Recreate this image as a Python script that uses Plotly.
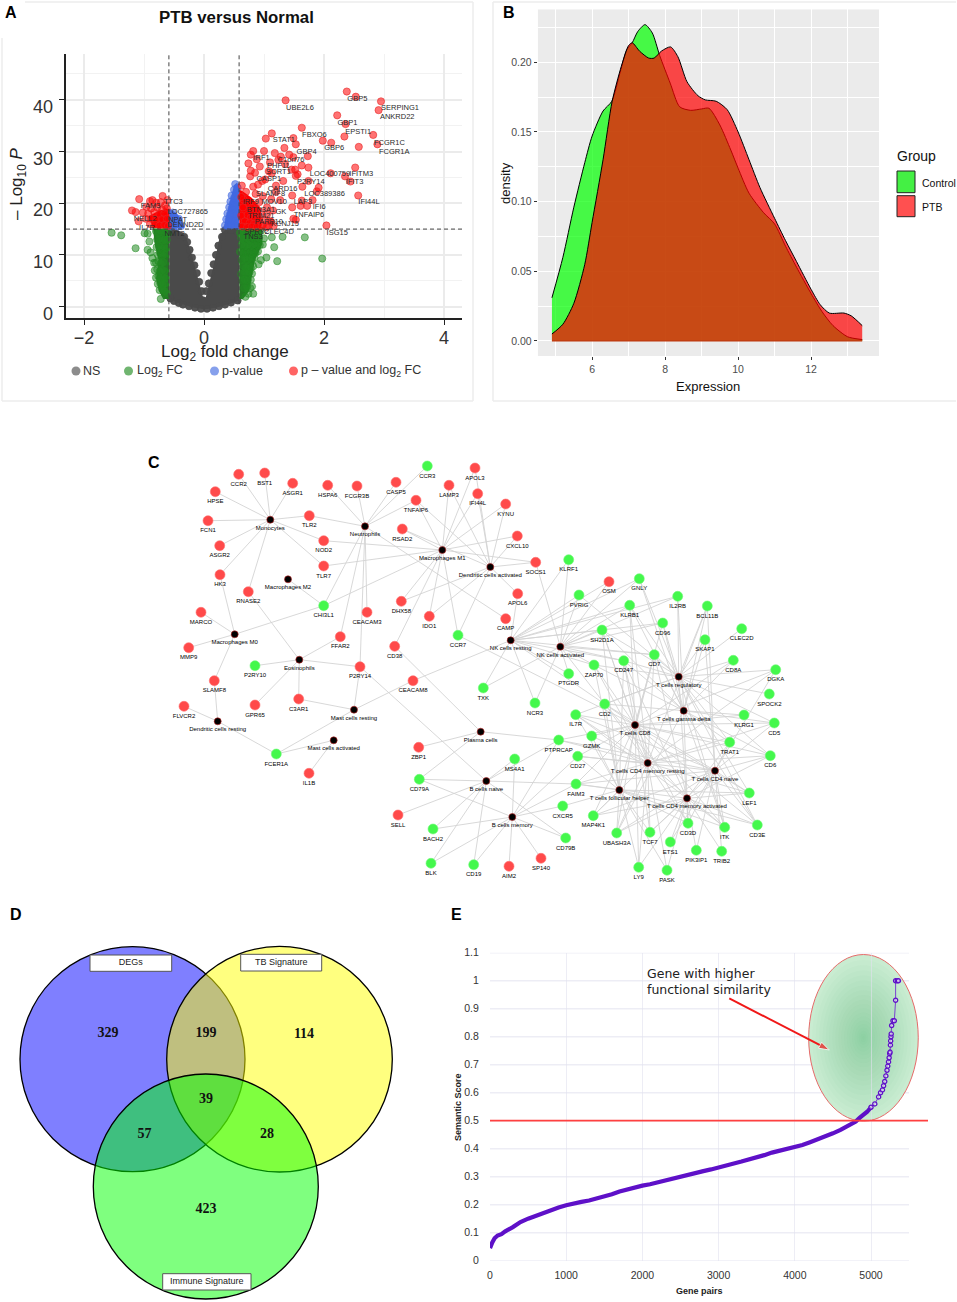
import plotly.graph_objects as go

W, H = 957, 1302
SANS = "Liberation Sans"

# ---------- Panel A: volcano ----------
ns_outline_x = [-0.58,-0.45,-0.3,-0.2,-0.1,-0.02,0.03,0.1,0.2,0.27,0.4,0.59,0.59,0.45,0.3,0.1,0,-0.2,-0.4,-0.58]
ns_outline_y = [15,14.8,13.5,10,5.5,2,1.8,5,10,14,15.2,15.2,1.2,0.6,0.1,-0.4,-0.5,-0.1,0.6,1.4]
ns_edge_x = [-0.55,-0.47,-0.4,-0.33,-0.28,-0.24,-0.2,-0.16,-0.12,-0.08,-0.04,0.04,0.08,0.12,0.16,0.2,0.24,0.3,0.35,0.45,0.55,-0.56,-0.5,-0.42,-0.35,-0.25,-0.15,-0.05,0.05,0.15,0.25,0.35,0.45,0.56]
ns_edge_y = [14.6,14.2,13.8,13.5,12.5,11,9.5,8,6.5,4.8,3,3,4.5,6.5,8.2,10,11.8,13.5,14.8,14.8,14.6,1.6,1.1,0.7,0.4,0.1,-0.2,-0.4,-0.4,-0.2,0.1,0.4,0.8,1.2]

fc_left_outline_x = [-0.58,-0.85,-0.82,-0.76,-0.8,-0.75,-0.68,-0.58]
fc_left_outline_y = [15,15,12,9,5.5,3,1.5,1.5]
fc_right_outline_x = [0.59,0.97,0.97,0.85,0.8,0.75,0.65,0.59]
fc_right_outline_y = [15,15,12,9,6,3,1.5,1.5]
fc_x = [-1.54,-1.38,-0.99,-0.94,-0.91,-1.14,-0.94,-0.89,-0.86,-0.83,1.68,1.31,1.13,1.17,1.97,1.22,1.04,0.95,0.91,0.82,0.74,0.69,-0.72,
        -0.8,-0.76,-0.72,-0.68,-0.64,-0.6,-0.78,-0.74,-0.7,-0.66,-0.62,-0.79,-0.75,-0.71,-0.67,-0.63,-0.77,-0.73,-0.69,-0.65,-0.8,-0.76,-0.72,-0.68,-0.82,-0.78,-0.74,-0.7,-0.66,-0.8,-0.76,-0.72,-0.68,-0.64,-0.77,-0.73,-0.69,-0.65,-0.74,-0.7,-0.66,-0.62,
        0.95,0.9,0.85,0.8,0.75,0.7,0.65,0.6,1.0,0.92,0.87,0.82,0.76,0.71,0.66,0.62,0.98,0.93,0.88,0.83,0.78,0.73,0.68,0.63,0.9,0.86,0.8,0.75,0.7,0.65,0.6,0.84,0.8,0.76,0.72,0.68,0.63,0.82,0.78,0.74,0.7,0.66,0.8,0.76,0.72,0.68,0.62,0.78,0.73,0.68,0.64,0.8,0.77,0.72,0.67]
fc_y = [14.3,13.8,14.2,14.1,12.6,11.3,11,10.5,9.4,8.5,13.4,13.5,13.4,11.5,9.3,8.8,9.5,9.0,8.2,2.5,2.5,1.9,1.5,
        14.6,14.2,14.7,14.3,14.6,14.2,13,13.2,12.8,13,12.9,11.5,11.7,11.2,11.6,11.3,10,10.3,9.9,10.2,8.5,8.8,8.3,8.6,7,7.2,6.8,7.1,6.9,5.6,5.9,5.4,5.7,5.5,4.4,4.6,4.2,4.5,3.2,3.5,3,2.6,
        14.7,14.3,14.7,14.2,14.7,14.3,14.7,14.3,13.2,13.3,13,13.4,13,13.4,13,13.3,12,11.9,11.8,12,11.7,12,11.7,12,10.7,10.4,10.6,10.3,10.6,10.3,10.6,9.5,9,9.4,9,9.4,9,7.8,7.5,7.9,7.5,7.9,6.4,6.7,6.3,6.7,6.3,5.2,5.1,5.3,5,3.9,3.6,3.9,3.6]

p_left_outline_x = [-0.58,-0.33,-0.38,-0.45,-0.58]
p_left_outline_y = [15.2,15.2,17,18,19]
p_right_outline_x = [0.59,0.33,0.36,0.43,0.5,0.55,0.59]
p_right_outline_y = [15.2,15.2,17,20,23.5,24,23]
p_x = [-0.38,-0.43,-0.5,-0.55,-0.42,-0.48,-0.54,-0.52,0.52,0.56,0.5,0.54,0.46,0.5,0.55,0.44,0.48,0.53,0.42,0.46,0.51,0.56,0.39,0.43,0.48,0.53,0.37,0.41,0.46,0.52,0.35,0.4,0.45,0.56]
p_y = [15.6,15.5,15.6,15.5,17,16.8,17,18.2,23.7,23,22.6,22,21.5,21,20.8,20.3,20,20,19.2,19,19.2,18.8,18,17.8,18,17.6,16.9,16.8,16.7,16.5,15.7,15.6,15.7,15.6]

fcp_left_outline_x = [-0.58,-0.85,-0.92,-0.75,-0.6,-0.58]
fcp_left_outline_y = [15.2,15.2,17.5,18.6,19,19]
fcp_right_outline_x = [0.59,0.95,0.95,0.8,0.62,0.59]
fcp_right_outline_y = [15.2,15.2,19,21,22.5,22.5]
fcp_x = [2.38,2.53,1.36,2.95,2.91,2.22,2.36,1.63,1.13,2.34,2.82,1.03,1.49,1.98,2.12,2.89,2.58,1.34,1.53,1.0,0.82,1.18,0.78,1.42,1.73,1.49,1.24,0.88,0.74,1.63,1.1,1.74,2.52,1.52,0.78,0.93,0.85,2.11,1.53,0.77,1.13,1.32,2.35,2.44,0.63,1.74,1.64,1.91,1.2,1.88,1.47,2.57,1.81,1.63,1.72,1.47,1.61,1.49,1.53,2.04,
         1.28,1.35,1.46,1.56,1.02,1.08,0.97,0.9,0.82,1.2,1.27,1.12,1.05,0.98,0.92,0.86,0.7,0.66,0.62,0.75,0.8,0.88,0.95,1.05,1.15,0.65,0.72,0.78,0.85,0.92,1.0,1.1,0.62,0.68,0.76,0.83,0.9,0.98,1.08,1.16,0.64,0.72,0.8,0.88,0.96,1.04,1.12,
         -1.08,-0.69,-0.86,-1.2,-1.14,-1.09,-0.61,-0.9,-0.8,-0.72,-0.65,-0.96,-0.88,-0.78,-0.7,-0.62,-1.02,-0.93,-0.83,-0.74,-0.66,-0.97,-0.88,-0.8,-0.7,-0.62,-0.9,-0.82,-0.74,-0.66,-0.6]
fcp_y = [41.6,40.6,39.9,39.7,38.0,37.0,35.3,34.6,33.5,32.9,33.2,32.5,32.6,32.1,31.7,31.4,30.9,30.7,31.4,30.1,30.1,29.7,29.4,29.4,29.1,28.9,28.4,28.5,27.7,27.3,27.9,26.9,26.9,26.5,26.3,27.1,25.9,25.8,25.3,25.2,25.8,24.3,25.2,24.2,23.4,24.3,23.2,23.0,23.4,22.3,21.5,21.5,20.6,20.5,19.5,19.2,19.5,17,16.8,15.7,
         29,27.6,26.5,25.6,24.6,26.2,24.3,23.6,23.2,22.2,20.6,20.8,19.2,21.4,20.2,21.8,22.2,20.7,21.2,19.9,19.1,18.8,18.3,17.8,18.6,19.2,17.7,17.2,17.1,16.9,16.8,16.5,17.6,16.5,16.2,16.0,15.9,15.8,15.7,15.6,15.5,15.4,15.5,15.4,15.6,15.4,16.4,
         20.8,21.4,20.6,18.6,18.3,16.5,20.6,20.4,20.1,20.2,19.6,19.3,19,19.2,18.8,19,18.2,18,18.3,17.9,18,17,17,16.8,16.9,17,16,15.9,15.7,15.8,15.6]

volcano_labels = ["GBP5","UBE2L6","SERPING1","ANKRD22","GBP1","EPSTI1","FBXO6","STAT1","FCGR1C","GBP6","FCGR1A","GBP4","IRF1","C1orf76","PHF11","SORT1","CASP1","LOC400759","IFITM3","P2RY14","IFIT3","CARD16","SLAMF8","LOC389386","IFI44L","IRF9","MOV10","LAP3","IFI6","BTN3A1","GK","TRIM21","TNFAIP6","PARP10","KCNJ15","SPRY2","CLEC4D","TNS3","ISG15","FAM3","TTC3","LOC727865","NELL2","NPAT","DENND2D","IL7R","NMT2"]
volcano_label_x = [2.556,1.6,3.267,3.22,2.39,2.57,1.84,1.33,3.09,2.17,3.17,1.71,0.96,1.45,1.24,1.24,1.08,2.1,2.62,1.78,2.51,1.31,1.11,2.01,2.75,0.78,1.17,1.65,1.92,0.95,1.28,0.95,1.75,1.08,1.35,0.88,1.25,0.82,2.22,-0.89,-0.51,-0.27,-0.98,-0.44,-0.31,-0.95,-0.49]
volcano_label_y = [40.2,38.4,38.4,36.6,35.5,33.8,33.2,32.2,31.7,30.6,29.9,29.9,28.8,28.4,27.1,26,24.6,25.7,25.7,24,24,22.7,21.7,21.7,20.2,20.3,20.3,20.3,19.3,18.7,18.2,17.5,17.7,16.4,15.9,14.5,14.5,13.5,14.2,19.4,20.2,18.2,17,16.7,15.7,15.2,14]

# ---------- Panel B: density ----------
control_x = [4.9,5.2,5.5,5.8,6.0,6.3,6.54,6.77,6.95,7.1,7.25,7.45,7.65,7.85,8.14,8.4,8.7,9.0,9.2,9.5,9.8,10.0,10.3,10.7,11.0,11.3,11.6,12.0,12.3,12.6,13.0,13.4]
control_y = [.031,.06,.096,.128,.147,.165,.172,.193,.209,.214,.222,.227,.221,.205,.185,.168,.1655,.1665,.167,.155,.137,.124,.106,.092,.084,.068,.053,.034,.021,.011,.003,.001]
ptb_x = [4.9,5.2,5.5,5.8,6.0,6.3,6.55,6.8,7.0,7.1,7.3,7.55,7.7,7.9,8.15,8.35,8.6,8.9,9.1,9.4,9.7,10.0,10.3,10.6,11.0,11.3,11.6,12.0,12.25,12.5,12.9,13.1,13.4]
ptb_y = [.005,.012,.027,.055,.085,.13,.172,.197,.212,.214,.208,.203,.203,.208,.211,.204,.186,.176,.173,.172,.166,.15,.13,.11,.088,.072,.057,.037,.026,.02,.02,.018,.011]

# ---------- Panel C: network ----------
node_names = ["HPSE","CCR2","BST1","ASGR1","HSPA6","FCGR3B","CASP5","CCR3","LAMP3","APOL3","IFI44L","KYNU","TNFAIP6","RSAD2","FCN1","Monocytes","TLR2","Neutrophils","NOD2","ASGR2","HK3","TLR7","Macrophages M2","RNASE2","CHI3L1","CEACAM3","Macrophages M1","CXCL10","Dendritic cells activated","SOCS1","DHX58","IDO1","APOL6","CAMP","CCR7","NK cells resting","MARCO","Macrophages M0","MMP9","FFAR2","CD38","Eosinophils","P2RY10","P2RY14","SLAMF8","CEACAM8","TXK","FLVCR2","GPR65","C3AR1","Dendritic cells resting","Mast cells resting","NCR3","Mast cells activated","FCER1A","Plasma cells","IL1B","ZBP1","MS4A1","B cells naive","CD79A","SELL","B cells memory","BACH2","BLK","CD19","AIM2","SP140",
              "KLRF1","OSM","GNLY","PVRIG","IL2RB","KLRB1","BCL11B","CD96","SH2D1A","CLEC2D","SKAP1","NK cells activated","CD7","CD247","CD8A","ZAP70","DGKA","PTGDR","T cells regulatory","SPOCK2","CD2","T cells gamma delta","IL7R","KLRG1","CD5","T cells CD8","GZMK","PTPRCAP","TRAT1","CD27","CD6","T cells CD4 memory resting","T cells CD4 naive","FAIM3","T cells follicular helper","LEF1","T cells CD4 memory activated","CXCR5","MAP4K1","CD3D","CD3E","ITK","UBASH3A","TCF7","CD79B","ETS1","PIK3IP1","TRIB2","LY9","PASK"]
node_x = [215.3,238.7,264.7,292.7,327.7,357,396,427.3,449,475,477.7,505.7,416,402.3,208,270.3,309.3,365,323.7,219.7,220,323.7,288,248.3,323.7,367,442.3,517.3,490.3,535.7,401.3,429.3,517.7,505.7,458,510.7,201,234.7,188.7,340.3,394.7,299.3,255,360,214.3,413,483.3,184,255,298.7,217.7,354,535,333.7,276.3,480.7,309,418.7,514.7,486.3,419.3,398,512.3,433,431,473.7,509,541,
          568.7,609,639.3,579,677.7,629.7,707.3,662.7,602,741.7,705,560.3,654.3,623.7,733.3,594,775.7,568.7,678.7,769.3,604.7,683.7,575.7,744,774.3,635,591.7,558.7,729.7,577.7,770.3,647.7,715,576,619.3,749.3,687,562.7,593.3,688,757.3,724.7,616.7,650,565.7,670.3,696.3,721.7,638.7,667]
node_y = [491.7,474.3,473,483.3,485.3,486,482.3,466,485.3,468,493.7,504,500.3,529,520.7,519.7,515.7,526.3,540.7,545.7,574.7,566,579.3,591.7,605.7,612.3,550,536,567,562.3,601.3,616.3,593.7,618.7,635.3,640.3,612.3,634.3,647.7,636.7,646.3,659.7,665.7,666.7,680.7,680.7,688,706.3,705,699,721.3,709.7,703,740.3,754,731.7,773.3,747.3,759,781,779.3,815,817,829,863.3,864.7,866.3,858.3,
          559.7,581.7,578.7,595,596.3,605.3,606,623,630,628.7,639.7,646.7,654.7,660.7,660.3,665,669.7,673.7,676.7,694,704,710.7,714.7,715,723,725,736,740,742.3,756.3,755.7,763,770.7,784,790,793,798.3,806,815.7,823.3,825,827.3,833,832.3,838,842,850.3,851.3,867.3,870.3]
green_nodes = ["CCR3","CHI3L1","CCR7","P2RY10","TXK","NCR3","FCER1A","MS4A1","CD79A","BACH2","BLK","CD19","KLRF1","GNLY","PVRIG","IL2RB","KLRB1","BCL11B","CD96","SH2D1A","CLEC2D","SKAP1","CD7","CD247","CD8A","ZAP70","DGKA","PTGDR","SPOCK2","CD2","IL7R","KLRG1","CD5","GZMK","PTPRCAP","TRAT1","CD27","CD6","FAIM3","LEF1","CXCR5","MAP4K1","CD3D","CD3E","ITK","UBASH3A","TCF7","CD79B","ETS1","PIK3IP1","TRIB2","LY9","PASK"]
hub_nodes = ["Monocytes","Neutrophils","Macrophages M2","Macrophages M1","Dendritic cells activated","NK cells resting","Macrophages M0","Eosinophils","Dendritic cells resting","Mast cells resting","Mast cells activated","Plasma cells","B cells naive","B cells memory","NK cells activated","T cells regulatory","T cells gamma delta","T cells CD8","T cells CD4 memory resting","T cells CD4 naive","T cells follicular helper","T cells CD4 memory activated"]
hub_links = {
 "Monocytes":["HPSE","CCR2","BST1","ASGR1","FCN1","ASGR2","TLR2","NOD2","TLR7","HK3","RNASE2"],
 "Neutrophils":["TLR2","HSPA6","FCGR3B","CASP5","CCR3","TNFAIP6","CHI3L1","CEACAM3","FFAR2","P2RY14","CAMP"],
 "Macrophages M1":["TNFAIP6","RSAD2","LAMP3","APOL3","IFI44L","KYNU","CXCL10","NOD2","TLR7","CHI3L1","DHX58","IDO1","CCR7","CD38","SOCS1"],
 "Dendritic cells activated":["RSAD2","LAMP3","IFI44L","KYNU","CXCL10","TNFAIP6","SOCS1","APOL6","DHX58","IDO1","CCR7","APOL3"],
 "Macrophages M2":["CHI3L1"],
 "Macrophages M0":["CHI3L1","MARCO","MMP9","HK3","SLAMF8"],
 "Eosinophils":["RNASE2","FFAR2","P2RY10","P2RY14","GPR65","C3AR1"],
 "Mast cells resting":["P2RY14","C3AR1","CEACAM8","FCER1A"],
 "Mast cells activated":["FCER1A","IL1B"],
 "Dendritic cells resting":["FLVCR2","SLAMF8","FCER1A"],
 "Plasma cells":["CD38","ZBP1","CD79A","PTPRCAP"],
 "B cells naive":["P2RY14","MS4A1","CD79A","SELL","BACH2","BLK","CD19","FAIM3","PTPRCAP","CD79B"],
 "B cells memory":["MS4A1","CD79A","BACH2","BLK","CD19","AIM2","SP140","CD79B","CXCR5","PTPRCAP","FAIM3","CD27"],
 "NK cells resting":["KLRF1","PVRIG","KLRB1","CD96","SH2D1A","CD7","CD247","ZAP70","PTGDR","TXK","NCR3","CEACAM8","GNLY","IL2RB","CD2","APOL6","OSM"],
 "NK cells activated":["KLRF1","PVRIG","OSM","KLRB1","SH2D1A","CD96","CD7","CD247","ZAP70","PTGDR","NCR3","TXK","GNLY","SOCS1","IL2RB","CD2"],
 "T cells regulatory":["BCL11B","SKAP1","IL2RB","CD8A","DGKA","SPOCK2","CD5","CD7","CD96","CLEC2D","KLRB1","GNLY","PVRIG","SH2D1A","CD247","ZAP70","CD2","ITK","CD3D","TRAT1","CD6","CD3E","LEF1","IL7R"],
 "T cells gamma delta":["CD7","CD96","CD2","CD247","SH2D1A","ZAP70","GNLY","IL2RB","KLRG1","CD8A","KLRB1","BCL11B","SKAP1","TRAT1","CD3D","ITK","CD3E","CD5","CD6","UBASH3A"],
 "T cells CD8":["CD2","CD7","CD247","ZAP70","SH2D1A","GZMK","IL7R","CD27","CD96","KLRB1","CD3D","CD3E","CD5","CD6","ITK","UBASH3A","TCF7","LY9","TRAT1","KLRG1","CD8A","DGKA","CCR7","PTPRCAP","MAP4K1","FAIM3","LEF1"],
 "T cells CD4 memory resting":["IL7R","CD2","CD27","GZMK","PTPRCAP","TRAT1","CD6","DGKA","TCF7","MAP4K1","FAIM3","CD3D","UBASH3A","LY9","ITK","KLRB1","CD7","ZAP70","CD247","BCL11B","CD5","LEF1","SH2D1A","PASK"],
 "T cells CD4 naive":["CD6","LEF1","TRAT1","DGKA","CD3E","ITK","CD3D","TCF7","BCL11B","CD5","CD2","IL7R","CD27","FAIM3","UBASH3A","PTPRCAP","TRIB2","PIK3IP1","ETS1","SKAP1","MAP4K1"],
 "T cells follicular helper":["CD27","CD3D","FAIM3","MAP4K1","UBASH3A","TCF7","LY9","LEF1","CXCR5","IL7R","GZMK","CD2","CD7","CD247","ZAP70","SH2D1A","ITK","CD3E","PASK"],
 "T cells CD4 memory activated":["CD3D","ITK","CD3E","TCF7","UBASH3A","LY9","PIK3IP1","TRIB2","ETS1","CD2","CD247","CD6","LEF1","TRAT1","IL7R","PASK","CD7","MAP4K1","FAIM3"],
}

# ---------- Panel D: Venn ----------
venn_cx = [132.5,279.5,205.8]
venn_cy = [1059.2,1059.2,1186.5]
venn_r = [112.5,112.8,112.5]
venn_fill = ["rgba(0,0,255,0.5)","rgba(255,255,0,0.5)","rgba(0,255,0,0.5)"]
venn_counts = ["329","199","114","39","57","28","423"]
venn_count_x = [108,206,304,206,144.5,267,206]
venn_count_y = [1033.5,1033.5,1034,1099.5,1134,1134,1209.5]
venn_sets = ["DEGs","TB Signature","Immune Signature"]
venn_box_x0 = [90,240.7,162.7]
venn_box_x1 = [171.7,321.7,251]
venn_box_y0 = [955,954.3,1273.7]
venn_box_y1 = [971.3,971,1290]

# ---------- Panel E: semantic score ----------
pair_x = [0,10,30,60,100,150,200,300,400,500,600,700,800,900,1000,1100,1200,1300,1400,1500,1600,1700,1800,1900,2000,2100,2200,2300,2400,2500,2600,2700,2800,2900,3000,3100,3200,3300,3400,3500,3600,3700,3800,3900,4000,4100,4200,4300,4400,4500,4600,4700,4800,4850,4900,4950,5000,5050,5100,5125,5150,5165,5180,5195,5210,5220,5230,5238,5245,5250,5255,5258,5262,5265,5271,5288,5306,5323,5323,5345,5360]
pair_y = [.045,.055,.065,.08,.09,.095,.105,.12,.138,.15,.16,.17,.182,.19,.198,.205,.21,.215,.222,.23,.237,.247,.255,.262,.268,.273,.28,.288,.294,.299,.306,.313,.32,.326,.332,.338,.347,.354,.361,.367,.377,.386,.392,.4,.405,.413,.423,.433,.443,.455,.467,.48,.497,.51,.52,.532,.548,.56,.585,.6,.61,.625,.64,.66,.68,.695,.71,.725,.74,.745,.77,.785,.80,.81,.84,.857,.857,.93,1.0,1.0,1.0]
y_ticks_e = [0,.1,.2,.3,.4,.5,.6,.7,.8,.9,1,1.1]
y_ticktext_e = ["0","0.1","0.2","0.3","0.4","0.5","0.6","0.7","0.8","0.9","1","1.1"]
threshold_e = 0.5
arrow_e_x = [3140,4453]
arrow_e_y = [0.937,0.7525]

def dom_x(a, b): return [a / W, b / W]
def dom_y(top, bottom): return [1 - bottom / H, 1 - top / H]

fig = go.Figure()

def add_poly(x, y, color, xa, ya):
    fig.add_trace(go.Scatter(x=x, y=y, mode="lines", fill="toself", fillcolor=color, line=dict(width=0), xaxis=xa, yaxis=ya, hoverinfo="skip", showlegend=False))

def add_pts(x, y, fill, edge, size=7.2):
    fig.add_trace(go.Scatter(x=x, y=y, mode="markers", marker=dict(size=size, color=fill, line=dict(color=edge, width=1)), xaxis="x2", yaxis="y2", showlegend=False))

# --- network (page axes)
pos = {n: (x, y) for n, x, y in zip(node_names, node_x, node_y)}
ex, ey = [], []
for hub, genes in hub_links.items():
    for g in genes:
        ex += [pos[hub][0], pos[g][0], None]
        ey += [pos[hub][1], pos[g][1], None]
fig.add_trace(go.Scatter(x=ex, y=ey, mode="lines", line=dict(color="#d4d4d4", width=0.9), xaxis="x", yaxis="y", hoverinfo="skip", showlegend=False))
def node_trace(names, color, size, edge):
    fig.add_trace(go.Scatter(x=[pos[n][0] for n in names], y=[pos[n][1] for n in names], text=names, mode="markers+text",
                             textposition="bottom center", textfont=dict(family=SANS, size=6, color="#000"),
                             marker=dict(size=size, color=color, line=dict(color=edge, width=0.6)), xaxis="x", yaxis="y", showlegend=False))
red_nodes = [n for n in node_names if n not in green_nodes and n not in hub_nodes]
node_trace(red_nodes, "#FF4A4A", 10, "#FF7070")
node_trace(green_nodes, "#44F84C", 10, "#70F878")
node_trace(hub_nodes, "#000000", 7, "#C02020")

# --- Venn counts
fig.add_trace(go.Scatter(x=venn_count_x, y=venn_count_y, text=["<b>" + t + "</b>" for t in venn_counts], mode="text", textfont=dict(family="Liberation Serif", size=14, color="#111"), xaxis="x", yaxis="y", showlegend=False))
# --- Venn set names
fig.add_trace(go.Scatter(x=[(a + b) / 2 for a, b in zip(venn_box_x0, venn_box_x1)], y=[(a + b) / 2 for a, b in zip(venn_box_y0, venn_box_y1)],
                         text=venn_sets, mode="text", textfont=dict(family=SANS, size=9, color="#222"), xaxis="x", yaxis="y", showlegend=False))

# --- volcano
add_poly(ns_outline_x, ns_outline_y, "#4A4A4A", "x2", "y2")
add_pts(ns_edge_x, ns_edge_y, "rgba(74,74,74,0.95)", "rgba(74,74,74,0.7)")
add_poly(fc_left_outline_x, fc_left_outline_y, "#237A23", "x2", "y2")
add_poly(fc_right_outline_x, fc_right_outline_y, "#237A23", "x2", "y2")
add_pts(fc_x, fc_y, "rgba(34,139,34,0.55)", "rgba(34,139,34,0.5)")
add_poly(p_left_outline_x, p_left_outline_y, "#4169E1", "x2", "y2")
add_poly(p_right_outline_x, p_right_outline_y, "#4169E1", "x2", "y2")
add_pts(p_x, p_y, "rgba(65,105,225,0.6)", "rgba(65,105,225,0.5)")
add_poly(fcp_left_outline_x, fcp_left_outline_y, "#FF0000", "x2", "y2")
add_poly(fcp_right_outline_x, fcp_right_outline_y, "#FF0000", "x2", "y2")
add_pts(fcp_x, fcp_y, "rgba(255,0,0,0.55)", "rgba(230,40,40,0.6)")
fig.add_trace(go.Scatter(x=volcano_label_x, y=volcano_label_y, text=volcano_labels, mode="text", textfont=dict(family=SANS, size=7.5, color="#2a2a2a"), xaxis="x2", yaxis="y2", showlegend=False, cliponaxis=False))

# volcano legend keys (page axes)
legend_a_x = [76, 128.5, 214.5, 293.5]
legend_a_y = [371, 371, 371, 371]
legend_a_c = ["#8C8C8C", "#70B570", "#86A0EC", "#FF6464"]
fig.add_trace(go.Scatter(x=legend_a_x, y=legend_a_y, mode="markers", marker=dict(size=9, color=legend_a_c), xaxis="x", yaxis="y", showlegend=False))

# --- density
CURVE = dict(shape="spline", smoothing=0.7)
fig.add_trace(go.Scatter(x=control_x, y=control_y, mode="lines", fill="tozeroy", fillcolor="rgba(0,255,0,0.7)", line=dict(color="#000", width=1, **CURVE), xaxis="x3", yaxis="y3", showlegend=False))
fig.add_trace(go.Scatter(x=ptb_x, y=ptb_y, mode="lines", fill="tozeroy", fillcolor="rgba(255,0,0,0.7)", line=dict(color="rgba(0,0,0,0)", width=0, **CURVE), xaxis="x3", yaxis="y3", showlegend=False))
fig.add_trace(go.Scatter(x=ptb_x, y=ptb_y, mode="lines", line=dict(color="#000", width=1, **CURVE), xaxis="x3", yaxis="y3", showlegend=False))
fig.add_trace(go.Scatter(x=[ptb_x[0], ptb_x[-1]], y=[0, 0], mode="lines", line=dict(color="#BE3A10", width=1.2), xaxis="x3", yaxis="y3", showlegend=False))

# --- semantic curve
low = sum(1 for v in pair_y if v < 0.56)
fig.add_trace(go.Scatter(x=pair_x[:low], y=pair_y[:low], mode="lines", line=dict(color="#5E10C8", width=4.2), xaxis="x4", yaxis="y4", showlegend=False))
fig.add_trace(go.Scatter(x=pair_x[low - 1:], y=pair_y[low - 1:], mode="lines+markers", line=dict(color="#7A3FD0", width=1),
                         marker=dict(size=4.2, color="rgba(255,255,255,0.5)", line=dict(color="#5E10C8", width=1.3)), xaxis="x4", yaxis="y4", showlegend=False))
fig.add_trace(go.Scatter(x=arrow_e_x, y=arrow_e_y, mode="lines+markers", line=dict(color="#F01818", width=2),
                         marker=dict(symbol=["circle", "arrow"], size=[1, 11], angleref="previous", color="#F01818"), xaxis="x4", yaxis="y4", showlegend=False))

shapes = []
# panel frames
frame_x0 = [25, 473, 2, 2, 493, 493, 493]
frame_y0 = [2, 2, 38, 401, 2, 2, 401]
frame_x1 = [473, 473, 2, 473, 956, 493, 956]
frame_y1 = [2, 401, 401, 401, 2, 401, 401]
for a, b, c, d in zip(frame_x0, frame_y0, frame_x1, frame_y1):
    shapes.append(dict(type="line", xref="x", yref="y", x0=a, y0=b, x1=c, y1=d, line=dict(color="#EDEDED", width=1.5), layer="below"))
# volcano thresholds
DASH = dict(color="#444", width=1, dash="4px,3px")
for v in [-0.585, 0.585]:
    shapes.append(dict(type="line", xref="x2", yref="y2", x0=v, x1=v, y0=-2.25, y1=48.8, line=DASH))
shapes.append(dict(type="line", xref="x2", yref="y2", x0=-2.3, x1=4.3, y0=15, y1=15, line=DASH))
# density panel background
shapes.append(dict(type="rect", xref="x3", yref="y3", x0=4.51, x1=13.86, y0=-0.0108, y1=0.238, fillcolor="#EBEBEB", line=dict(width=0), layer="below"))
# density legend keys
for y0, y1, c in [(171, 192.7, "#44F044"), (195.7, 216.7, "#FF5050")]:
    shapes.append(dict(type="rect", xref="x", yref="y", x0=897, x1=915, y0=y0, y1=y1, fillcolor=c, line=dict(color="#222", width=1)))
# Venn
for cx, cy, r, c in zip(venn_cx, venn_cy, venn_r, venn_fill):
    shapes.append(dict(type="circle", xref="x", yref="y", x0=cx - r, x1=cx + r, y0=cy - r, y1=cy + r, fillcolor=c, line=dict(color="#000", width=1.3), layer="below"))
for a, b, c, d in zip(venn_box_x0, venn_box_x1, venn_box_y0, venn_box_y1):
    shapes.append(dict(type="rect", xref="x", yref="y", x0=a, x1=b, y0=c, y1=d, fillcolor="#FFF", line=dict(color="#555", width=1), layer="below"))
# semantic panel
for v in y_ticks_e:
    shapes.append(dict(type="line", xref="x4", yref="y4", x0=0, x1=5499, y0=v, y1=v, line=dict(color="rgba(225,225,238,0.6)", width=1.4), layer="below"))
ell = dict(xc=4901, yc=0.796, rx=719, ry=0.2975)
shapes.append(dict(type="circle", xref="x4", yref="y4", x0=ell["xc"] - ell["rx"], x1=ell["xc"] + ell["rx"], y0=ell["yc"] - ell["ry"], y1=ell["yc"] + ell["ry"],
                   fillcolor="#CDEED4", line=dict(color="#E86A6A", width=1), layer="below"))
for k in range(20):
    s = (1 - k / 20) ** 1.3
    shapes.append(dict(type="circle", xref="x4", yref="y4", x0=ell["xc"] - ell["rx"] * s, x1=ell["xc"] + ell["rx"] * s, y0=ell["yc"] - ell["ry"] * s, y1=ell["yc"] + ell["ry"] * s,
                       fillcolor="rgba(70,200,100,0.028)", line=dict(width=0), layer="below"))
shapes.append(dict(type="line", xref="x4", yref="y4", x0=0, x1=5748, y0=threshold_e, y1=threshold_e, line=dict(color="#FF4040", width=1.8)))

ann = []
def T(x, y, text, size=12, color="#000", family=SANS, anchor="center", angle=0, bold=False):
    if bold:
        text = "<b>" + text + "</b>"
    ann.append(dict(x=x, y=y, xref="x", yref="y", text=text, showarrow=False, xanchor=anchor, yanchor="middle", textangle=angle, font=dict(family=family, size=size, color=color)))

for x, y, t in [(11, 12, "A"), (509, 12, "B"), (154, 462, "C"), (16, 914, "D"), (456, 914, "E")]:
    T(x, y, t, 16, bold=True)
T(236, 17, "PTB versus Normal", 16.8, "#111", bold=True)
T(225, 353, "Log<sub>2</sub> fold change", 17, "#222")
T(18, 184, "– Log<sub>10</sub> <i>P</i>", 17, "#222", angle=-90)
for x, t in [(81, "NS"), (134.5, "Log<sub>2</sub> FC"), (220, "p-value"), (298.5, "p – value and log<sub>2</sub> FC")]:
    T(x, 371, t, 12.5, "#333", anchor="left")
# volcano y tick labels sit slightly below their ticks in the reference
for v in [0, 10, 20, 30, 40]:
    ann.append(dict(x=0, y=v, xref="paper", yref="y2", text=str(v), showarrow=False, xanchor="right", yanchor="middle", xshift=55, yshift=-7, font=dict(family=SANS, size=18, color="#333")))
T(708, 386, "Expression", 13, "#111")
T(505, 183, "density", 13, "#111", angle=-90)
T(894.5, 156, "Group", 14, "#111", anchor="left")
T(919.5, 183, "Control", 10.5, "#111", anchor="left")
T(919.5, 207, "PTB", 10.5, "#111", anchor="left")
T(699, 1290.7, "Gene pairs", 9, "#222", bold=True)
T(457.3, 1106.7, "Semantic Score", 9, "#222", angle=-90, bold=True)
ann.append(dict(x=645.3, y=981.5, xref="x", yref="y", text="Gene with higher<br>functional similarity", showarrow=False, align="left", xanchor="left", yanchor="middle", font=dict(family="DejaVu Sans", size=12.5, color="#222")))

page = dict(domain=[0, 1], visible=False, fixedrange=True)
fig.update_layout(
    width=W, height=H, margin=dict(l=0, r=0, t=0, b=0, pad=0, autoexpand=False), paper_bgcolor="#FFF", plot_bgcolor="rgba(0,0,0,0)", showlegend=False,
    shapes=shapes, annotations=ann,
    xaxis=dict(page, range=[0, W], anchor="y"),
    yaxis=dict(page, range=[H, 0], anchor="x"),
    xaxis2=dict(domain=dom_x(66, 462), range=[-2.3, 4.3], anchor="y2", tick0=0, dtick=2, showgrid=True, gridcolor="#EBEBEB", gridwidth=1.6, zeroline=False,
                minor=dict(dtick=1, showgrid=True, gridcolor="#F2F2F2", gridwidth=0.8), showline=True, linecolor="#222", linewidth=1.5, ticks="outside", ticklen=5, tickcolor="#222",
                ticklabelstandoff=-3, tickfont=dict(family=SANS, size=18, color="#333")),
    yaxis2=dict(domain=dom_y(54.3, 318.3), range=[-2.25, 48.8], anchor="x2", tick0=0, dtick=10, showgrid=True, gridcolor="#EBEBEB", gridwidth=1.6, zeroline=False,
                minor=dict(dtick=5, showgrid=True, gridcolor="#F2F2F2", gridwidth=0.8), showline=True, linecolor="#222", linewidth=1.5, ticks="outside", ticklen=5, tickcolor="#222", showticklabels=False),
    xaxis3=dict(domain=dom_x(537.7, 879), range=[4.51, 13.86], anchor="y3", tick0=0, dtick=2, showgrid=True, gridcolor="#FFF", gridwidth=1.3, zeroline=False,
                minor=dict(tick0=1, dtick=2, showgrid=True, gridcolor="#FFF", gridwidth=0.6), ticks="outside", ticklen=3, tickcolor="#333", tickfont=dict(family=SANS, size=10.5, color="#4D4D4D")),
    yaxis3=dict(domain=dom_y(9.3, 356), range=[-0.0108, 0.238], anchor="x3", tick0=0, dtick=0.05, tickformat=".2f", showgrid=True, gridcolor="#FFF", gridwidth=1.3, zeroline=False,
                minor=dict(tick0=0.025, dtick=0.05, showgrid=True, gridcolor="#FFF", gridwidth=0.6), ticks="outside", ticklen=3, tickcolor="#333", tickfont=dict(family=SANS, size=10.5, color="#4D4D4D")),
    xaxis4=dict(domain=dom_x(490, 928), range=[0, 5748], anchor="y4", tickvals=[0, 1000, 2000, 3000, 4000, 5000], showgrid=True, gridcolor="rgba(225,225,238,0.6)", gridwidth=1.4, zeroline=False, ticks="outside", ticklen=5, tickcolor="rgba(0,0,0,0)", showline=False,
                tickfont=dict(family=SANS, size=10.5, color="#333")),
    yaxis4=dict(domain=dom_y(952.7, 1260.7), range=[0, 1.1], anchor="x4", tickvals=y_ticks_e, ticktext=y_ticktext_e, showgrid=False, zeroline=False, ticks="outside", ticklen=8, tickcolor="rgba(0,0,0,0)", showline=False,
                tickfont=dict(family=SANS, size=10.5, color="#333")),
)
fig.write_html("out.html", config={"displayModeBar": False}, post_script="document.body.style.margin='0';")
